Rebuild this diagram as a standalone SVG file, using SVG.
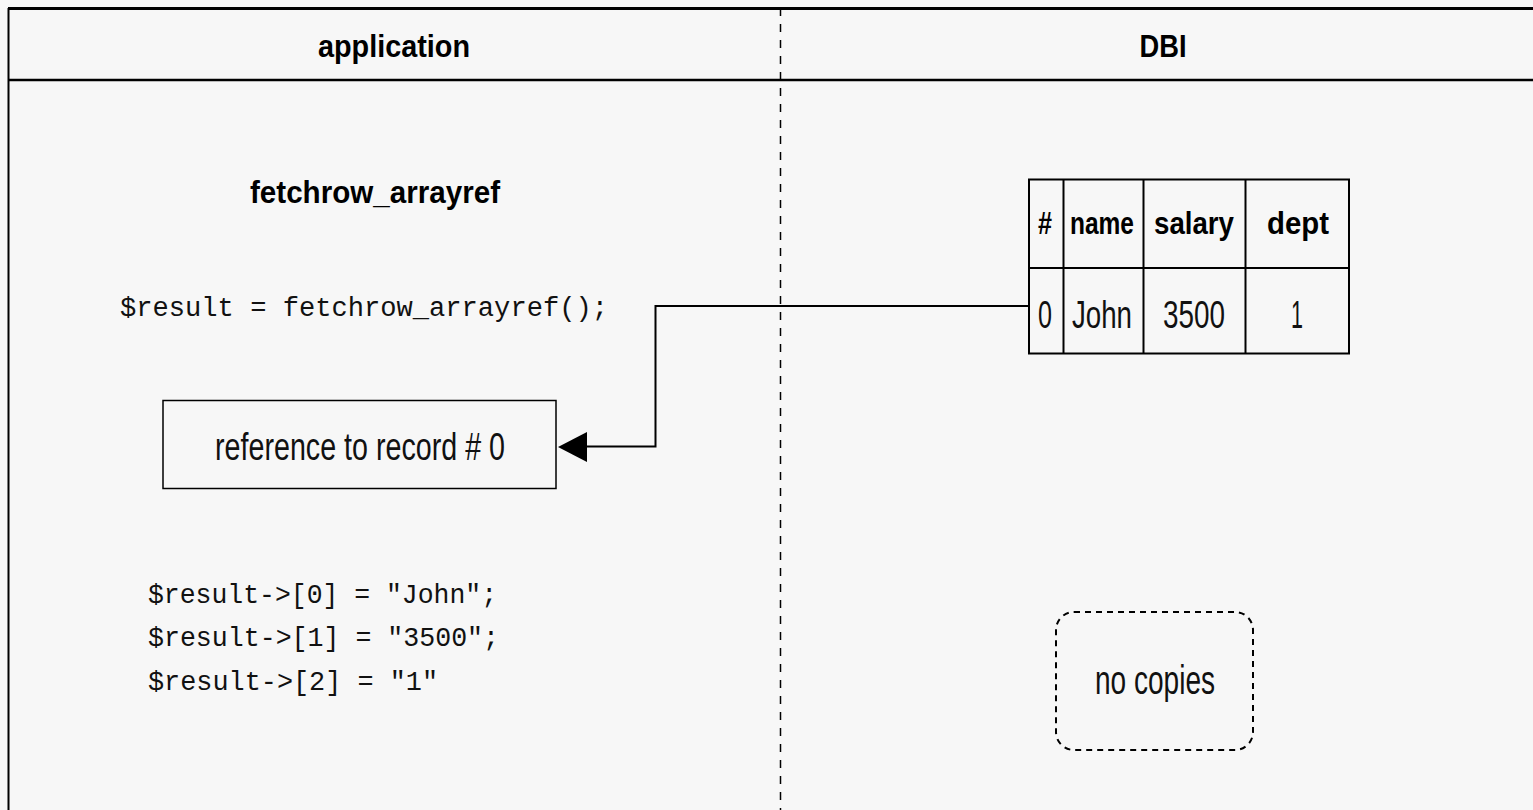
<svg xmlns="http://www.w3.org/2000/svg" width="1533" height="810" viewBox="0 0 1533 810">
<style>
.bg{fill:#f7f7f7}
.ln{stroke:#000;fill:none}
.hd{font-family:"Liberation Sans",Arial,sans-serif;font-weight:bold;font-size:32px;fill:#000;text-anchor:middle}
.tx{font-family:"Liberation Sans",Arial,sans-serif;font-size:38px;fill:#111;text-anchor:middle}
.th{font-family:"Liberation Sans",Arial,sans-serif;font-weight:bold;font-size:32px;fill:#000;text-anchor:middle}
.mono{font-family:"Liberation Mono","Courier New",monospace;font-size:27px;fill:#111}
</style>
<rect class="bg" x="0" y="0" width="1533" height="810"/>
<g id="frame">
<line class="ln" x1="8" y1="8.5" x2="1533" y2="8.5" stroke-width="3"/>
<line class="ln" x1="8.5" y1="8" x2="8.5" y2="810" stroke-width="2"/>
<line class="ln" x1="8" y1="80" x2="1533" y2="80" stroke-width="2.5"/>
<line class="ln" x1="780.5" y1="8" x2="780.5" y2="810" stroke-width="1.5" stroke-dasharray="8,8"/>
</g>
<g id="lane-application">
<text class="hd" x="394" y="57" textLength="152" lengthAdjust="spacingAndGlyphs">application</text>
</g>
<g id="lane-dbi">
<text class="hd" x="1163" y="57" textLength="47" lengthAdjust="spacingAndGlyphs">DBI</text>
</g>
<g id="title">
<text class="hd" x="375" y="203" textLength="250" lengthAdjust="spacingAndGlyphs">fetchrow_arrayref</text>
</g>
<g id="call">
<text class="mono" x="120" y="316" textLength="488" lengthAdjust="spacingAndGlyphs">$result = fetchrow_arrayref();</text>
</g>
<g id="ref-box">
<rect class="ln" x="163" y="400.5" width="393" height="88" stroke-width="1.5" fill="#f7f7f7"/>
<text class="tx" x="360" y="460" textLength="290" lengthAdjust="spacingAndGlyphs">reference to record # 0</text>
</g>
<g id="code">
<text class="mono" x="148" y="603" textLength="349" lengthAdjust="spacingAndGlyphs">$result-&gt;[0] = "John";</text>
<text class="mono" x="148" y="646" textLength="351" lengthAdjust="spacingAndGlyphs">$result-&gt;[1] = "3500";</text>
<text class="mono" x="148" y="690" textLength="290" lengthAdjust="spacingAndGlyphs">$result-&gt;[2] = "1"</text>
</g>
<g id="table">
<rect class="ln" x="1029" y="179.5" width="320" height="174" stroke-width="2" fill="#f7f7f7"/>
<line class="ln" x1="1029" y1="268" x2="1349" y2="268" stroke-width="2"/>
<line class="ln" x1="1063.5" y1="179" x2="1063.5" y2="353" stroke-width="2"/>
<line class="ln" x1="1143.5" y1="179" x2="1143.5" y2="353" stroke-width="2"/>
<line class="ln" x1="1245.5" y1="179" x2="1245.5" y2="353" stroke-width="2"/>
<text class="th" x="1045" y="234" textLength="14" lengthAdjust="spacingAndGlyphs">#</text>
<text class="th" x="1102" y="234" textLength="64" lengthAdjust="spacingAndGlyphs">name</text>
<text class="th" x="1194" y="234" textLength="80" lengthAdjust="spacingAndGlyphs">salary</text>
<text class="th" x="1298" y="234" textLength="62" lengthAdjust="spacingAndGlyphs">dept</text>
<text class="tx" x="1045" y="328" textLength="14" lengthAdjust="spacingAndGlyphs">0</text>
<text class="tx" x="1102" y="328" textLength="60" lengthAdjust="spacingAndGlyphs">John</text>
<text class="tx" x="1194" y="328" textLength="62" lengthAdjust="spacingAndGlyphs">3500</text>
<text class="tx" x="1297" y="328" textLength="12" lengthAdjust="spacingAndGlyphs">1</text>
</g>
<g id="no-copies">
<rect class="ln" x="1056" y="612" width="197" height="138" rx="18" ry="18" stroke-width="2" stroke-dasharray="6,5" fill="#f7f7f7"/>
<text class="tx" x="1155" y="694" textLength="120" lengthAdjust="spacingAndGlyphs" style="font-size:40px">no copies</text>
</g>
<g id="connectors">
<path class="ln" d="M1029,306 H655.5 V446.5 H586" stroke-width="2"/>
<path d="M558,447 L587,432 L587,462 Z" fill="#000"/>
</g>
</svg>
